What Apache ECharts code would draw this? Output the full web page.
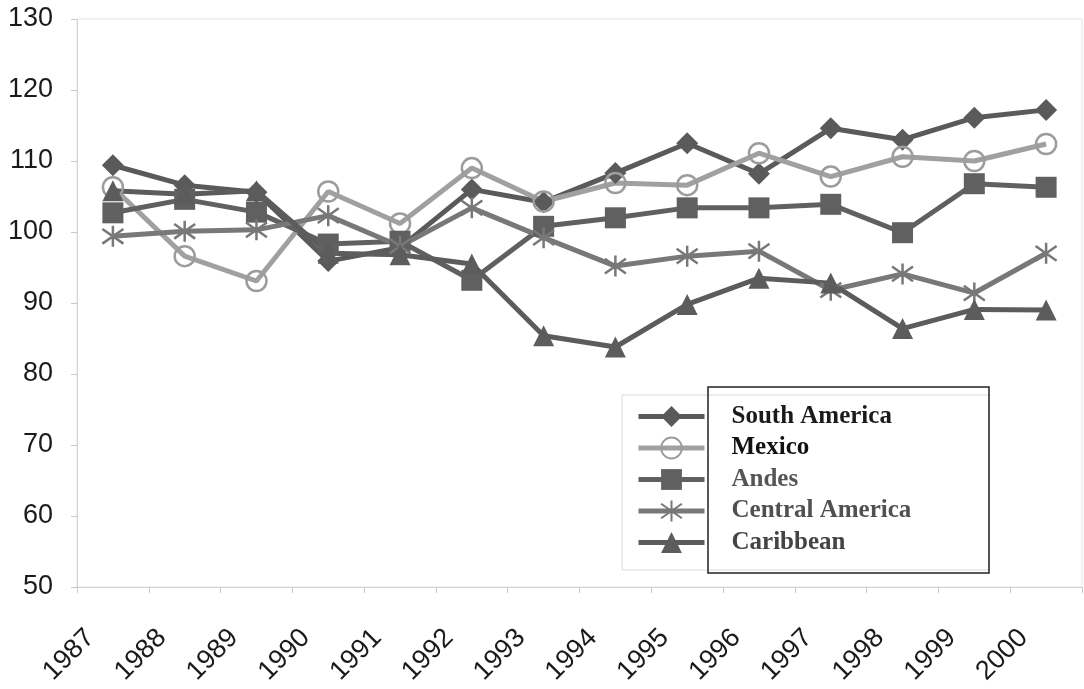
<!DOCTYPE html>
<html>
<head>
<meta charset="utf-8">
<script src="https://cdn.jsdelivr.net/npm/echarts@6/dist/echarts.min.js"></script>
<style>
html,body{margin:0;padding:0;background:#fff;}
#chart{width:1084px;height:689px;}
</style>
</head>
<body>
<div id="chart"></div>
<script>
var years = ['1987','1988','1989','1990','1991','1992','1993','1994','1995','1996','1997','1998','1999','2000'];
var seriesNames = ['South America','Mexico','Andes','Central America','Caribbean'];
var southAmerica   = [109.4, 106.6, 105.6, 95.9, 97.8, 106.0, 104.2, 108.3, 112.5, 108.2, 114.6, 113.0, 116.1, 117.2];
var mexico         = [106.3, 96.6, 93.1, 105.7, 101.2, 109.0, 104.3, 106.9, 106.6, 111.1, 107.8, 110.6, 110.0, 112.4];
var andes          = [102.7, 104.6, 102.8, 98.3, 98.7, 93.2, 100.8, 102.0, 103.4, 103.4, 103.9, 99.9, 106.8, 106.3];
var centralAmerica = [99.4, 100.1, 100.3, 102.3, 98.0, 103.4, 99.2, 95.2, 96.6, 97.3, 91.8, 94.1, 91.4, 97.0];
var caribbean      = [105.8, 105.3, 105.8, 97.0, 96.8, 95.5, 85.4, 83.8, 89.8, 93.5, 92.8, 86.4, 89.1, 89.0];
var yTicks = {min: 50, max: 130, interval: 10};

var chart = echarts.init(document.getElementById('chart'));
var asterisk = 'path://M10 0L10 20M3 3L17 17M17 3L3 17';

function mk(name, data, color, symbol, size, extra) {
  var s = {
    name: name, type: 'line', data: data, symbol: symbol, symbolSize: size,
    lineStyle: {color: color, width: 5},
    itemStyle: {color: color, borderColor: color, borderWidth: 0},
    animation: false
  };
  if (extra) { for (var k in extra) s[k] = extra[k]; }
  return s;
}

var option = {
  backgroundColor: '#fff',
  animation: false,
  grid: {left: 77, right: 2, top: 19, bottom: 102, show: true, borderColor: '#e4e4e4', borderWidth: 1},
  xAxis: {
    type: 'category', data: years, boundaryGap: true,
    axisLine: {lineStyle: {color: '#d4d4d4', width: 1}},
    axisTick: {show: true, length: 6, lineStyle: {color: '#c8c8c8'}},
    axisLabel: {rotate: 45, fontFamily: 'Liberation Sans, Arial, sans-serif', fontSize: 27, color: '#1a1a1a',
      margin: 24, padding: [0, 32, 0, 0], interval: 0},
    splitLine: {show: false}
  },
  yAxis: {
    type: 'value', min: yTicks.min, max: yTicks.max, interval: yTicks.interval,
    axisLine: {show: true, lineStyle: {color: '#d4d4d4', width: 1}},
    axisTick: {show: true, length: 6, lineStyle: {color: '#c8c8c8'}},
    axisLabel: {fontFamily: 'Liberation Sans, Arial, sans-serif', fontSize: 27, color: '#1a1a1a', margin: 24},
    splitLine: {show: false}
  },
  legend: {
    orient: 'vertical', left: 636, top: 404, padding: 0,
    itemWidth: 66, itemHeight: 26, itemGap: 6.5,
    lineStyle: {width: 5},
    textStyle: {fontFamily: 'Liberation Serif, Times New Roman, serif', fontWeight: 'bold', fontSize: 25,
      color: '#222', padding: [0, 0, 0, 22]},
    data: [
      {name: seriesNames[0], textStyle: {color: '#1a1a1a'}},
      {name: seriesNames[1], textStyle: {color: '#111'}},
      {name: seriesNames[2], textStyle: {color: '#555'}},
      {name: seriesNames[3], textStyle: {color: '#505050'}},
      {name: seriesNames[4], textStyle: {color: '#444'}}
    ]
  },
  graphic: [
    {type: 'rect', shape: {x: 622, y: 395, width: 367, height: 175}, style: {fill: 'none', stroke: '#dadada', lineWidth: 1}, z: 1},
    {type: 'rect', shape: {x: 708, y: 387, width: 281, height: 186}, style: {fill: 'none', stroke: '#222', lineWidth: 1.5}, z: 2}
  ],
  series: [
    mk(seriesNames[0], southAmerica, '#5a5a5a', 'diamond', 22),
    mk(seriesNames[1], mexico, '#a0a0a0', 'circle', 20, {itemStyle: {color: 'rgba(255,255,255,0)', borderColor: '#9c9c9c', borderWidth: 2.5}}),
    mk(seriesNames[2], andes, '#606060', 'rect', 21),
    mk(seriesNames[3], centralAmerica, '#787878', asterisk, 21, {itemStyle: {color: '#787878', borderColor: '#787878', borderWidth: 2.5}}),
    mk(seriesNames[4], caribbean, '#5c5c5c', 'triangle', 21)
  ]
};
chart.setOption(option);
</script>
</body>
</html>
